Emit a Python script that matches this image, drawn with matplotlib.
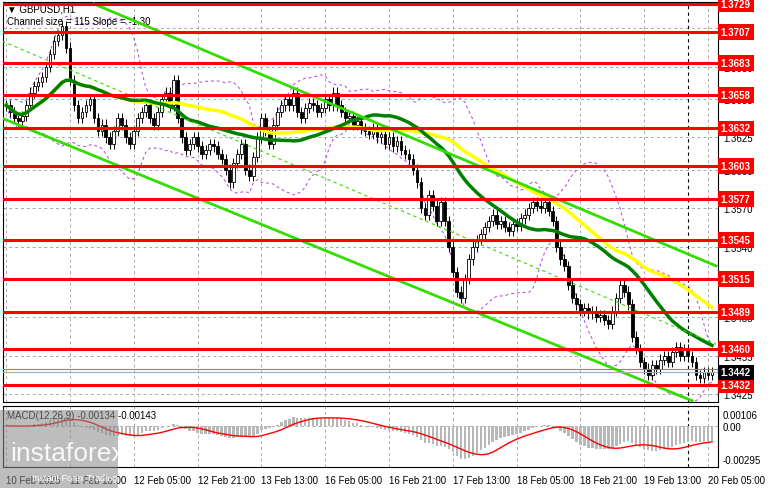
import numpy as np
import pandas as pd
import matplotlib.pyplot as plt
from matplotlib.patches import Rectangle

plt.rcParams['font.family'] = ['Liberation Sans', 'DejaVu Sans']

# closes in pips above 1.3000, one per hourly candle
closes_pips = [
    650, 645, 640, 638, 642, 650, 660, 665, 668, 672,
    680, 690, 700, 705, 712, 695, 670, 650, 640, 645,
    650, 655, 640, 630, 635, 625, 620, 630, 640, 635,
    625, 620, 630, 640, 645, 650, 640, 635, 645, 655,
    660, 650, 670, 640, 625, 615, 620, 625, 618, 612,
    615, 620, 618, 612, 608, 600, 590, 605, 612, 620,
    600, 595, 610, 625, 640, 630, 620, 635, 645, 650,
    655, 650, 660, 645, 640, 648, 652, 650, 645, 648,
    655, 650, 660, 650, 645, 640, 642, 635, 638, 632,
    630, 628, 632, 625, 628, 620, 625, 618, 622, 615,
    612, 608, 600, 590, 570, 565, 580, 572, 560, 575,
    560, 540, 520, 505, 500, 515, 530, 540, 545, 550,
    555, 560, 565, 558, 560, 555, 552, 558, 556, 562,
    565, 570, 575, 572, 570, 575, 568, 560, 540, 530,
    525, 510, 500, 495, 490, 492, 488, 490, 485, 487,
    483, 480, 490, 500, 510, 505, 495, 470, 460, 450,
    445, 440, 448, 445, 452, 455, 450, 458, 462, 455,
    460, 455, 450, 440, 438, 442, 440, 442,
]
levels = [1.3729, 1.3707, 1.3683, 1.3658, 1.3632, 1.3603, 1.3577, 1.3545,
          1.3515, 1.3489, 1.3460, 1.3432]
tick_prices = [1.3425, 1.3455, 1.3485, 1.3540, 1.3570, 1.3600, 1.3625,
               1.3655, 1.3680, 1.3710]
x_labels = ["10 Feb 2025", "11 Feb 13:00", "12 Feb 05:00", "12 Feb 21:00",
            "13 Feb 13:00", "16 Feb 05:00", "16 Feb 21:00", "17 Feb 13:00",
            "18 Feb 05:00", "18 Feb 21:00", "19 Feb 13:00", "20 Feb 05:00"]
x_label_idx = [0, 16, 32, 48, 64, 80, 96, 112, 128, 144, 160, 176]
# channel lines: (start index, start price, end index, end price)
chan_upper = (22, 1.3729, 178, 1.3525)
chan_lower = (-1, 1.3640, 172, 1.3420)
chan_mid = (-1, 1.3700, 178, 1.3464)

close = 1.3 + np.array(closes_pips) / 10000
n = len(close)
opn = np.r_[close[0], close[:-1]]
idx = np.arange(n)
s = pd.Series(close)
ma_g = s.rolling(30, min_periods=1).mean()
ma_y = s.rolling(50, min_periods=1).mean()
env_mid = s.rolling(20, min_periods=1).mean()
sd = s.rolling(20, min_periods=1).std().fillna(0)
ema12 = s.ewm(span=12).mean()
ema26 = s.ewm(span=26).mean()
macd = ema12 - ema26
signal = macd.rolling(9, min_periods=1).mean()

fig = plt.figure(figsize=(7.81, 4.89), dpi=100)
ax = fig.add_axes([3/781, 86/489, 715/781, 400/489])
mx = fig.add_axes([3/781, 21/489, 715/781, 61/489])
for a in (ax, mx):
    a.set_xlim(-0.8, 178.5)
    a.tick_params(length=0, labelleft=False, labelbottom=False, labelright=True, labelsize=7)
    for sp in a.spines.values():
        sp.set_color("black")
    for xi in x_label_idx:
        a.axvline(xi, color="#aaaaaa", ls=(0, (3, 3)), lw=0.7, zorder=0)
    a.axvline(171, color="black", ls=(0, (3, 3)), lw=0.8, zorder=1)
    a.yaxis.set_ticks_position("right")

ax.set_ylim(1.34190, 1.37305)
for tp in tick_prices:
    ax.axhline(tp, color="#aaaaaa", ls=(0, (3, 3)), lw=0.7, zorder=0)
ax.set_yticks(tick_prices)
ax.set_yticklabels([f"{t:.4f}" for t in tick_prices])

for i in idx:
    o, c = opn[i], close[i]
    lo, hi = min(o, c), max(o, c)
    ax.vlines(i, lo - 0.0004, hi + 0.0004, color="black", lw=0.7, zorder=3)
    ax.add_patch(Rectangle((i - 0.35, lo), 0.7, max(hi - lo, 0.00005),
                           facecolor="white" if c >= o else "black",
                           edgecolor="black", lw=0.6, zorder=4))

ax.plot(idx, env_mid + 2 * sd, color="#b040e0", ls=(0, (3, 3)), lw=0.7, zorder=2)
ax.plot(idx, env_mid - 2 * sd, color="#b040e0", ls=(0, (3, 3)), lw=0.7, zorder=2)
ax.plot(idx, ma_y, color="#ffff00", lw=2.5, zorder=5)
ax.plot(idx, ma_g, color="#008000", lw=2.5, zorder=5)
for ch, ls in ((chan_upper, "-"), (chan_lower, "-"), (chan_mid, (0, (3, 3)))):
    ax.plot([ch[0], ch[2]], [ch[1], ch[3]], color="#33dd00", lw=2 if ls == "-" else 0.8,
            ls=ls, zorder=6)

for lv in levels:
    ax.axhline(lv, color="#ff0000", lw=2.2, zorder=7)
    ax.text(1.004, lv, f"{lv:.4f}", transform=ax.get_yaxis_transform(), color="white",
            fontsize=7, fontweight="bold", va="center", ha="left", zorder=10,
            bbox=dict(boxstyle="square,pad=0.3", fc="#ff0000", ec="none"), clip_on=False)
ax.axhline(1.3445, color="#ff6600", lw=0.8, zorder=7)
ax.axhline(close[-1], color="#aaaaaa", lw=0.8, zorder=7)
ax.text(1.004, close[-1], f"{close[-1]:.4f}", transform=ax.get_yaxis_transform(),
        color="white", fontsize=7, fontweight="bold", va="center", ha="left", zorder=10,
        bbox=dict(boxstyle="square,pad=0.3", fc="black", ec="none"), clip_on=False)
ax.text(0.005, 0.995, "▼ GBPUSD,H1", transform=ax.transAxes, fontsize=7, va="top")
ax.text(0.005, 0.965, "Channel size = 115 Slope = -1.30", transform=ax.transAxes,
        fontsize=7, va="top")

mx.set_ylim(-0.00366, 0.00177)
mx.set_yticks([0.00106, 0.0, -0.00295])
mx.set_yticklabels(["0.00106", "0.00", "-0.00295"])
mx.axhline(0, color="#aaaaaa", ls=(0, (3, 3)), lw=0.7)
mx.bar(idx, macd, width=0.6, color="#b8b8b8", zorder=2)
mx.plot(idx, signal, color="#ff0000", lw=1, zorder=3)
mx.text(0.005, 0.93, f"MACD(12,26,9) {macd.iloc[-1]:.5f} {signal.iloc[-1]:.5f}",
        transform=mx.transAxes, fontsize=7, va="top")
for xi, lab in zip(x_label_idx, x_labels):
    mx.text(xi, -0.0044, lab, fontsize=7, ha="left", va="top", clip_on=False)

fig.patches.append(Rectangle((0, 0), 118/781, 78/489, transform=fig.transFigure,
                             fc="#888888", alpha=0.55, ec="none", zorder=20))
fig.text(10/781, 28/489, "instaforex", fontsize=19, color="white", alpha=0.9, zorder=21)
fig.text(32/781, 8/489, "Instant Forex Trading", fontsize=6.5, color="white", zorder=21)

fig.savefig("out.png", dpi=100)
